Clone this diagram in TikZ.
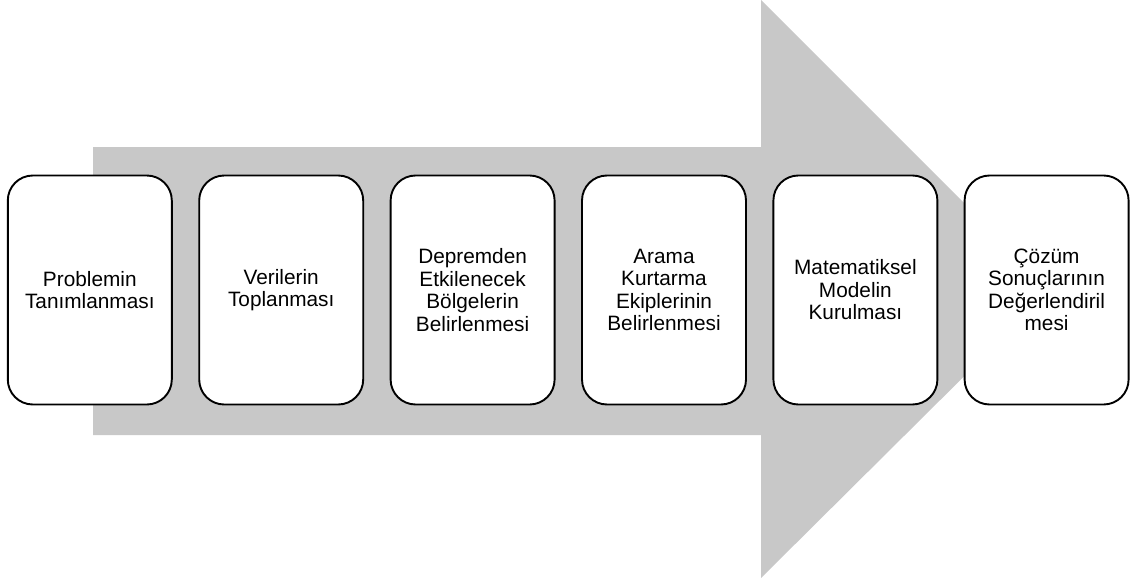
\documentclass[tikz,border=0pt]{standalone}
\usepackage{fontspec}
\setmainfont{Liberation Sans}
\definecolor{arrowgray}{RGB}{200,200,200}
\begin{document}
\begin{tikzpicture}[x=1pt,y=-1pt,
  stepbox/.style={draw=black, line width=1.9pt, fill=white, rounded corners=25pt,
    minimum width=164pt, minimum height=229pt, align=center, inner sep=0pt,
    font=\fontsize{20.8}{22.5}\selectfont}]
\useasboundingbox (0,0) rectangle (1130,578);
\fill[arrowgray] (93,147) -- (761,147) -- (761,0) -- (1051,290) -- (761,578) -- (761,435) -- (93,435) -- cycle;
\node[stepbox] (s1) at (89.8,290) {Problemin\\Tanımlanması};
\node[stepbox] (s2) at (281.2,290) {Verilerin\\Toplanması};
\node[stepbox] (s3) at (472.6,290) {Depremden\\Etkilenecek\\Bölgelerin\\Belirlenmesi};
\node[stepbox] (s4) at (664,290) {Arama\\Kurtarma\\Ekiplerinin\\Belirlenmesi};
\node[stepbox] (s5) at (855.4,290) {Matematiksel\\Modelin\\Kurulması};
\node[stepbox] (s6) at (1046.6,290) {Çözüm\\Sonuçlarının\\Değerlendiril\\mesi};
\end{tikzpicture}
\end{document}
